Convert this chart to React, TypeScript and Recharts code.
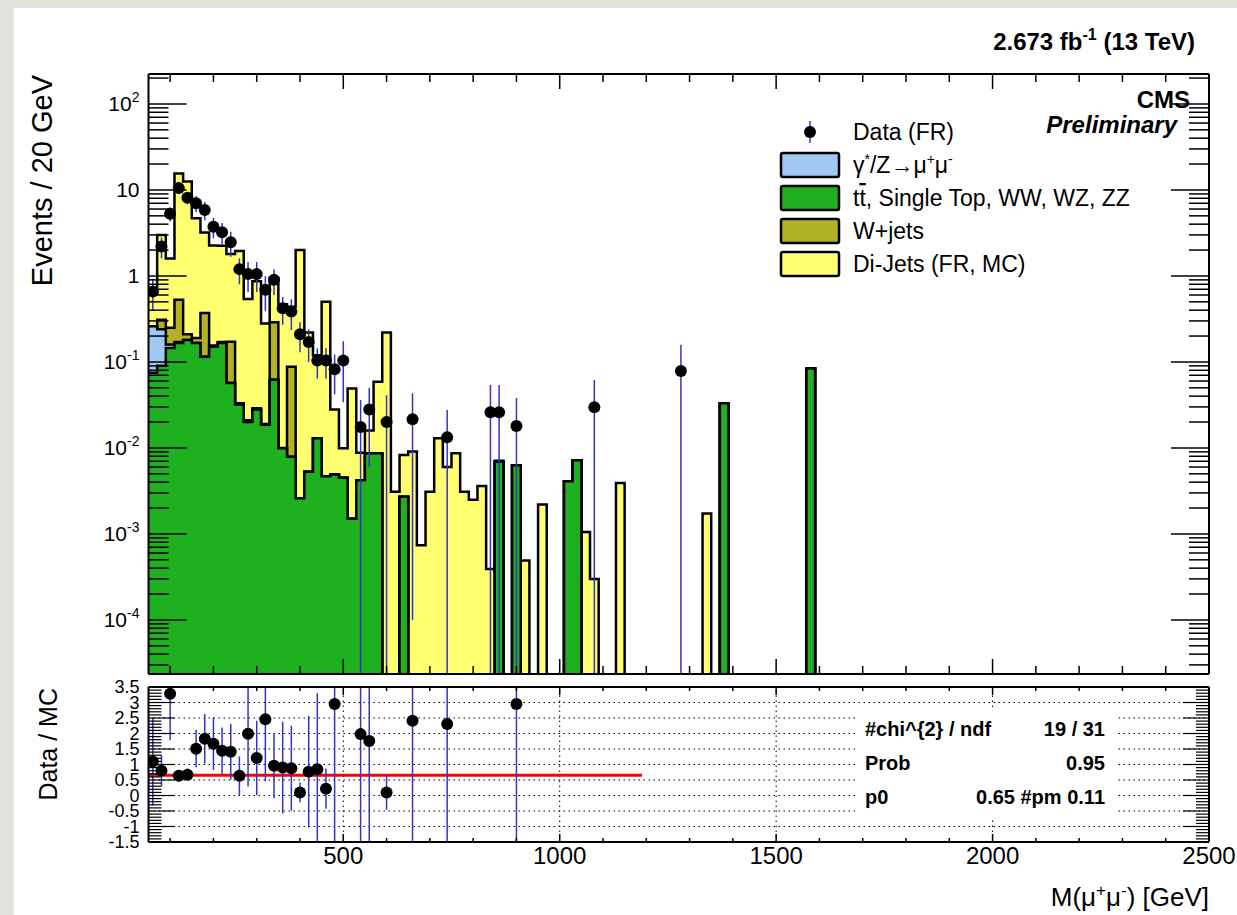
import React from 'react';
import {
  ComposedChart, Area, Scatter, ErrorBar, Line, XAxis, YAxis, ReferenceLine,
} from 'recharts';

const FONT = '"Liberation Sans", Arial, Helvetica, sans-serif';

// binning of the histograms (GeV)
const BIN_START = 50;
const BIN_WIDTH = 20;
const X_MAX = 2500;

// y ranges of both pads
const Y_MIN = 2.35e-5;
const Y_MAX = 223;
const R_MIN = -1.5;
const R_MAX = 3.5;

// stacked MC, contribution per 20 GeV bin, first bin = 50-70 GeV
const ttbarVV = [
  0.075, 0.09, 0.145, 0.166, 0.18, 0.166, 0.115, 0.15, 0.166, 0.057,
  0.032, 0.02, 0.028, 0.0186, 0.062, 0.0099, 0.0079, 0.0026, 0.0053, 0.013,
  0.0047, 0.0049, 0.0045, 0.0015, 0.0042, 0.0087, 0.0087, 0, 0, 0.0027,
  0, 0, 0, 0, 0, 0, 0, 0, 0, 0,
  0.0069, 0, 0.0063, 0, 0, 0, 0, 0, 0.0041, 0.0072,
  0, 0, 0, 0, 0, 0, 0, 0, 0, 0,
  0, 0, 0, 0, 0, 0, 0.033, 0, 0, 0,
  0, 0, 0, 0, 0, 0, 0.084,
];
const dyMuMu = [0.185, 0.15, 0.015, 0.004];
const wJets = [
  0, 0.07, 0.09, 0.36, 0.03, 0.024, 0.255, 0.005, 0.004, 0.115,
  0.001, 0.001, 0.001, 0.0004, 0.228, 0.0001, 0.08,
];
const diJets = [
  0.37, 2.69, 1.35, 15.0, 12.3, 4.5, 2.83, 2.1, 2.08, 1.63,
  1.92, 0.52, 0.84, 0.26, 0.66, 0.46, 0.35, 2.0, 0.215, 0.107,
  0.495, 0.023, 0.0054, 0.0475, 0.0046, 0.0073, 0.05, 0.22, 0.0031, 0.0056,
  0.0091, 0.00074, 0.0031, 0.013, 0.006, 0.0087, 0.0031, 0.0025, 0.0036, 0.00039,
  0.0002, 0, 0, 0.00049, 0, 0.0022, 0, 0, 0, 0,
  0.00105, 0.0003, 0, 0, 0.0039, 0, 0, 0, 0, 0,
  0, 0, 0, 0, 0.00173,
];

// data (FR), bin centres
const dataMass = [
  60, 80, 100, 120, 140, 160, 180, 200, 220, 240, 260, 280, 300, 320, 340, 360,
  380, 400, 420, 440, 460, 480, 500, 540, 560, 600, 660, 740, 840, 860, 900, 1080, 1280,
];
const dataVal = [
  0.66, 2.2, 5.3, 10.5, 8.1, 7.0, 5.85, 3.74, 3.22, 2.47, 1.2, 1.05, 1.05, 0.69, 0.9, 0.42,
  0.385, 0.21, 0.17, 0.104, 0.104, 0.082, 0.104, 0.0175, 0.028, 0.02, 0.0216, 0.0133, 0.026, 0.026, 0.018, 0.0297, 0.0786,
];
const dataErr = [
  0.27, 0.6, 1.0, 1.5, 1.3, 1.5, 1.4, 1.0, 0.9, 0.8, 0.4, 0.4, 0.4, 0.3, 0.3, 0.15,
  0.15, 0.08, 0.07, 0.04, 0.04, 0.04, 0.07, 0.0185, 0.022, 0.021, 0.0215, 0.0143, 0.028, 0.028, 0.02, 0.032, 0.08,
];

// data / MC
const ratioMass = [
  60, 80, 100, 120, 140, 160, 180, 200, 220, 240, 260, 280, 300, 320,
  340, 360, 380, 400, 420, 440, 460, 480, 540, 560, 600, 660, 740, 900,
];
const ratioVal = [
  1.1, 0.8, 3.28, 0.64, 0.67, 1.51, 1.83, 1.67, 1.44, 1.41, 0.64, 1.99, 1.21, 2.46,
  0.96, 0.9, 0.88, 0.1, 0.77, 0.85, 0.22, 2.95, 1.98, 1.76, 0.1, 2.41, 2.31, 2.95,
];
const ratioErr = [
  1.42, 0.5, 1.5, 0.1, 0.2, 0.6, 0.8, 0.85, 0.75, 0.9, 0.62, 1.7, 1.2, 2.0,
  1.05, 1.48, 1.37, 0.32, 1.8, 2.45, 0.65, 5, 5, 5, 0.56, 5, 5, 5,
];

// pol0 fit
const fitP0 = 0.65;
const fitRange = [50, 1190];

const FLOOR = 1e-9;
const pos = (v: number) => (v > 0 ? v : FLOOR);

const nEdges = Math.floor((X_MAX - BIN_START) / BIN_WIDTH) + 2;
const histRows = Array.from({ length: nEdges }, (_, i) => {
  const g = ttbarVV[i] ?? 0;
  const b = g + (dyMuMu[i] ?? 0);
  const w = b + (wJets[i] ?? 0);
  const t = w + (diJets[i] ?? 0);
  return { x: BIN_START + i * BIN_WIDTH, tt: pos(g), dy: pos(b), wj: pos(w), tot: pos(t) };
});

const dataRows = dataMass.map((m, i) => ({
  x: m,
  v: dataVal[i],
  err: [Math.min(dataErr[i], dataVal[i] - Y_MIN), dataErr[i]],
}));

const ratioRows = ratioMass.map((m, i) => ({
  x: m,
  r: ratioVal[i],
  err: [Math.min(ratioErr[i], ratioVal[i] - R_MIN), Math.min(ratioErr[i], R_MAX - ratioVal[i])],
}));

const fitRows = fitRange.map((m) => ({ x: m, y: fitP0 }));

const xTicks = Array.from({ length: 25 }, (_, i) => (i + 1) * 100);
const logTicks: number[] = [];
for (let d = -5; d <= 2; d++) {
  for (let k = 1; k <= 9; k++) {
    const v = k * Math.pow(10, d);
    if (v >= Y_MIN && v <= Y_MAX) logTicks.push(v);
  }
}
const ratioTicks = Array.from({ length: 51 }, (_, i) => (i - 15) / 10);
const ratioGridY = [-1, -0.5, 0, 0.5, 1, 1.5, 2, 2.5, 3];
const ratioGridX = [500, 1000, 1500, 2000];

const frame = { stroke: '#000', strokeWidth: 2 };

const xTick = (dir: number, major: number, minor: number, labels: boolean) => (props: any) => {
  const { x, y, payload } = props;
  const v = payload.value;
  const isMajor = v % 500 === 0;
  return (
    <g>
      <line x1={x} y1={y} x2={x} y2={y + dir * (isMajor ? major : minor)} stroke="#000" strokeWidth={1.5} />
      {labels && isMajor && (
        <text x={x} y={y + 22} textAnchor="middle" fontSize={24} fontFamily={FONT} fill="#000">{v}</text>
      )}
    </g>
  );
};

const logTick = (dir: number, labels: boolean) => (props: any) => {
  const { x, y, payload } = props;
  const v = payload.value;
  const exp = Math.round(Math.log10(v));
  const isMajor = Math.abs(v / Math.pow(10, exp) - 1) < 1e-6;
  return (
    <g>
      <line x1={x} y1={y} x2={x + dir * (isMajor ? 38 : 20)} y2={y} stroke="#000" strokeWidth={1.5} />
      {labels && isMajor && (
        <text x={x - 9} y={y + 7} textAnchor="end" fontSize={21} fontFamily={FONT} fill="#000">
          {exp === 0 ? '1' : exp === 1 ? '10' : (
            <>10<tspan dy={-9} fontSize={14}>{exp}</tspan></>
          )}
        </text>
      )}
    </g>
  );
};

const ratioTick = (dir: number, labels: boolean) => (props: any) => {
  const { x, y, payload } = props;
  const v = payload.value;
  const isMajor = Math.abs(v * 2 - Math.round(v * 2)) < 1e-6;
  return (
    <g>
      <line x1={x} y1={y} x2={x + dir * (isMajor ? 26 : 13)} y2={y} stroke="#000" strokeWidth={1.2} />
      {labels && isMajor && (
        <text x={x - 9} y={y + 6} textAnchor="end" fontSize={18} fontFamily={FONT} fill="#000">
          {String(Math.round(v * 10) / 10)}
        </text>
      )}
    </g>
  );
};

const dot = (props: any) => <circle cx={props.cx} cy={props.cy} r={6} fill="#000" />;

const legendRows = [
  { label: 'gz', fill: '#a0c8f5', y: 165 },
  { label: 'tt', fill: '#1eb01e', y: 198 },
  { label: 'W+jets', fill: '#b2b227', y: 231 },
  { label: 'Di-Jets (FR, MC)', fill: '#ffff70', y: 264 },
];

function legendLabel(key: string) {
  if (key === 'gz') {
    return (
      <>γ<tspan dy={-9} fontSize={14}>*</tspan><tspan dy={9}>/Z→μ</tspan><tspan dy={-9} fontSize={14}>+</tspan><tspan dy={9}>μ</tspan><tspan dy={-9} fontSize={14}>-</tspan></>
    );
  }
  if (key === 'tt') {
    return (
      <>t<tspan style={{ textDecoration: 'overline' }}>t</tspan>, Single Top, WW, WZ, ZZ</>
    );
  }
  return key;
}

export default function App() {
  return (
    <div style={{ position: 'absolute', left: 0, top: 0, width: 1237, height: 915, background: '#e3e3de', overflow: 'hidden' }}>
      <div style={{ position: 'absolute', left: 14, top: 8, right: 0, bottom: 0, background: '#fff' }} />

      <div style={{ position: 'absolute', left: 0, top: 0 }}>
        <ComposedChart width={1237} height={700} data={histRows} margin={{ top: 73, right: 27, bottom: 25, left: 88.5 }}>
          <Area dataKey="tot" type="stepAfter" stroke="#000" strokeWidth={2.5} fill="#ffff70" fillOpacity={1} baseValue={Y_MIN} isAnimationActive={false} />
          <Area dataKey="wj" type="stepAfter" stroke="#000" strokeWidth={2.5} fill="#b2b227" fillOpacity={1} baseValue={Y_MIN} isAnimationActive={false} />
          <Area dataKey="dy" type="stepAfter" stroke="#000" strokeWidth={2.5} fill="#a0c8f5" fillOpacity={1} baseValue={Y_MIN} isAnimationActive={false} />
          <Area dataKey="tt" type="stepAfter" stroke="#000" strokeWidth={2.5} fill="#1eb01e" fillOpacity={1} baseValue={Y_MIN} isAnimationActive={false} />
          <Scatter data={dataRows} dataKey="v" shape={dot} isAnimationActive={false}>
            <ErrorBar dataKey="err" direction="y" width={0} stroke="#3434c4" strokeWidth={1.5} />
          </Scatter>
          <XAxis dataKey="x" type="number" domain={[BIN_START, X_MAX]} allowDataOverflow ticks={xTicks} interval={0}
            height={1} tickSize={0} tickMargin={0} tickLine={false} axisLine={frame} tick={xTick(-1, 15, 8, false)} />
          <XAxis xAxisId="top" orientation="top" dataKey="x" type="number" domain={[BIN_START, X_MAX]} allowDataOverflow ticks={xTicks} interval={0}
            height={1} tickSize={0} tickMargin={0} tickLine={false} axisLine={frame} tick={xTick(1, 15, 8, false)} />
          <YAxis type="number" scale="log" domain={[Y_MIN, Y_MAX]} allowDataOverflow ticks={logTicks} interval={0}
            width={60} tickSize={0} tickMargin={0} tickLine={false} axisLine={frame} tick={logTick(1, true)} />
          <YAxis yAxisId="right" orientation="right" type="number" scale="log" domain={[Y_MIN, Y_MAX]} allowDataOverflow ticks={logTicks} interval={0}
            width={1} tickSize={0} tickMargin={0} tickLine={false} axisLine={frame} tick={logTick(-1, false)} />
        </ComposedChart>
      </div>

      <div style={{ position: 'absolute', left: 0, top: 670 }}>
        <ComposedChart width={1237} height={230} margin={{ top: 16, right: 27, bottom: 57, left: 88.5 }}>
          {ratioGridY.map((v) => (
            <ReferenceLine key={'gy' + v} y={v} stroke="#000" strokeWidth={1} strokeDasharray="1.5 3.5" />
          ))}
          {ratioGridX.map((v) => (
            <ReferenceLine key={'gx' + v} x={v} stroke="#000" strokeWidth={1} strokeDasharray="1.5 3.5" />
          ))}
          <Line data={fitRows} dataKey="y" stroke="#ff0000" strokeWidth={3} dot={false} isAnimationActive={false} />
          <Scatter data={ratioRows} dataKey="r" shape={dot} isAnimationActive={false}>
            <ErrorBar dataKey="err" direction="y" width={0} stroke="#3434c4" strokeWidth={1.5} />
          </Scatter>
          <XAxis dataKey="x" type="number" domain={[BIN_START, X_MAX]} allowDataOverflow ticks={xTicks} interval={0}
            height={1} tickSize={0} tickMargin={0} tickLine={false} axisLine={frame} tick={xTick(-1, 8, 4, true)} />
          <XAxis xAxisId="top" orientation="top" dataKey="x" type="number" domain={[BIN_START, X_MAX]} allowDataOverflow ticks={xTicks} interval={0}
            height={1} tickSize={0} tickMargin={0} tickLine={false} axisLine={frame} tick={xTick(1, 8, 4, false)} />
          <YAxis type="number" domain={[R_MIN, R_MAX]} allowDataOverflow ticks={ratioTicks} interval={0}
            width={60} tickSize={0} tickMargin={0} tickLine={false} axisLine={frame} tick={ratioTick(1, true)} />
          <YAxis yAxisId="right" orientation="right" type="number" domain={[R_MIN, R_MAX]} allowDataOverflow ticks={ratioTicks} interval={0}
            width={1} tickSize={0} tickMargin={0} tickLine={false} axisLine={frame} tick={ratioTick(-1, false)} />
        </ComposedChart>
      </div>

      <svg width={1237} height={915} style={{ position: 'absolute', left: 0, top: 0, pointerEvents: 'none' }} fontFamily={FONT}>
        <text x={1195} y={50} textAnchor="end" fontSize={24} fontWeight="bold">
          2.673 fb<tspan dy={-10} fontSize={16}>-1</tspan><tspan dy={10}> (13 TeV)</tspan>
        </text>
        <text x={1190} y={108} textAnchor="end" fontSize={24} fontWeight="bold">CMS</text>
        <text x={1177} y={133} textAnchor="end" fontSize={24} fontWeight="bold" fontStyle="italic">Preliminary</text>

        <text transform="translate(52,75) rotate(-90)" textAnchor="end" fontSize={29}>Events / 20 GeV</text>
        <text transform="translate(57,688) rotate(-90)" textAnchor="end" fontSize={25}>Data / MC</text>
        <text x={1209} y={906} textAnchor="end" fontSize={26}>
          M(μ<tspan dy={-10} fontSize={17}>+</tspan><tspan dy={10}>μ</tspan><tspan dy={-10} fontSize={17}>-</tspan><tspan dy={10}>) [GeV]</tspan>
        </text>

        {/* legend */}
        <line x1={810} y1={121} x2={810} y2={143} stroke="#3434c4" strokeWidth={1.5} />
        <circle cx={810} cy={132} r={6} fill="#000" />
        <text x={853} y={140} fontSize={23}>Data (FR)</text>
        {legendRows.map((row) => (
          <g key={row.label}>
            <rect x={781} y={row.y - 12} width={58} height={24} rx={2} fill={row.fill} stroke="#000" strokeWidth={2.5} />
            <text x={853} y={row.y + 8} fontSize={23}>{legendLabel(row.label)}</text>
          </g>
        ))}

        {/* fit statistics */}
        <rect x={858} y={709} width={257} height={109} fill="#fff" />
        <g fontSize={20} fontWeight="bold">
          <text x={865} y={736}>#chi^{'{2}'} / ndf</text>
          <text x={1105} y={736} textAnchor="end">19 / 31</text>
          <text x={865} y={770}>Prob</text>
          <text x={1105} y={770} textAnchor="end">0.95</text>
          <text x={865} y={804}>p0</text>
          <text x={1105} y={804} textAnchor="end">0.65 #pm 0.11</text>
        </g>
      </svg>
    </div>
  );
}
